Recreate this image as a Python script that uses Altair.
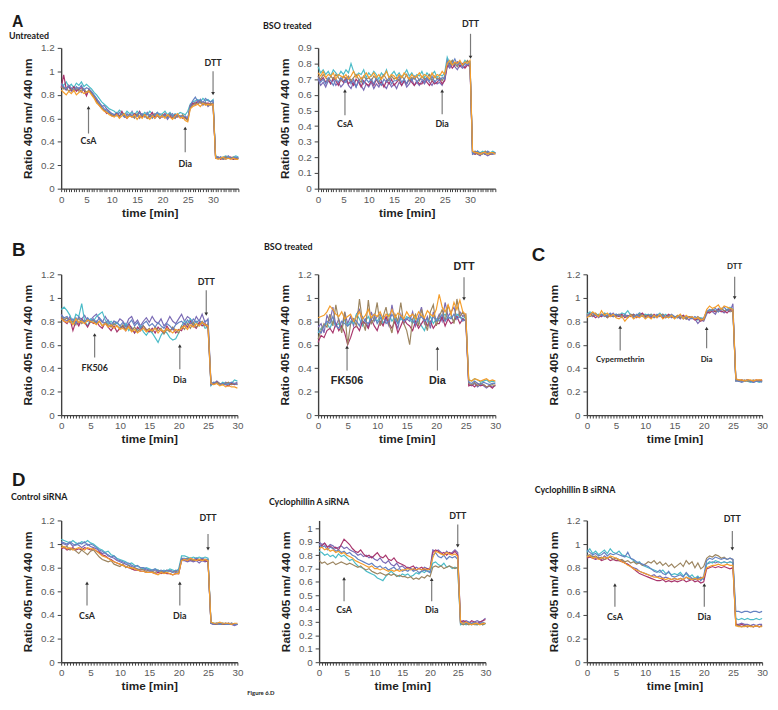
import altair as alt
import pandas as pd

SERIES = ["purple", "cyan", "magenta", "brown", "blue", "orange"]
PALETTE = ["#7b6bb5", "#4bbcc8", "#a8356c", "#9c8560", "#6482c2", "#f59e2c"]

T35 = [i / 2 for i in range(71)]
T30 = [i / 2 for i in range(61)]
Y_TICKS_12 = [0, 0.2, 0.4, 0.6, 0.8, 1, 1.2]
Y_TICKS_09 = [0, 0.1, 0.2, 0.3, 0.4, 0.5, 0.6, 0.7, 0.8, 0.9]
Y_TICKS_10 = [0, 0.1, 0.2, 0.3, 0.4, 0.5, 0.6, 0.7, 0.8, 0.9, 1]

# ---- traces (ratio x 100), segments separated by | ----
A1 = {
    "purple": "88 86 84 87 83 85 84 86 82 85 80|84 82 79 76 74 70 71 68 66 64|63 65 62 64 61 63 62 66 61 63 60 64 62 65 61 63 60 62 64 61 63 59 62 64 60 63 61 62 60 59|70 72 74 73 76 71 74 70 72 71|27 26 27 25 26 28 26 25 26 26",
    "cyan": "90 88 91 87 89 86 90 88 91 87 89|87 85 82 80 77 74 72 70 68 67|66 64 67 65 63 66 64 65 63 66 64 62 65 63 66 64 62 65 63 64 66 63 65 62 64 63 65 64 63 66|72 74 75 76 74 77 75 76 74 76|28 27 26 27 28 27 26 27 28 27",
    "magenta": "86 97 85 88 84 87 83 85 86 84 79|85 81 78 75 71 69 67 64 65 62|62 64 61 66 62 60 63 61 64 62 66 61 63 60 62 65 61 63 60 62 64 61 62 60 63 61 62 60 61 59|71 73 72 75 73 74 72 73 72 73|26 27 25 26 27 26 27 25 26 26",
    "brown": "87 85 86 83 85 84 86 83 84 85 82|84 81 78 74 72 69 67 66 64 63|62 63 61 64 62 61 63 62 60 64 61 63 62 60 63 61 64 62 60 63 61 62 64 61 60 62 61 63 60 58|69 71 73 72 74 72 73 71 73 72|27 26 26 25 27 26 26 27 25 26",
    "blue": "89 87 85 88 86 83 87 85 88 84 86|85 83 80 77 73 71 68 67 65 64|63 62 65 63 61 64 62 63 61 62 65 63 61 64 62 60 63 65 61 62 63 60 64 62 61 63 62 61 62 60|71 75 78 74 76 73 77 75 74 75|27 26 27 26 25 27 26 26 27 26",
    "orange": "84 82 80 83 81 84 80 82 83 81 82|83 80 77 73 71 68 66 65 63 62|61 63 60 62 64 60 62 61 63 59 62 60 63 61 59 62 60 63 61 62 60 63 61 59 62 64 60 61 58 57|68 70 71 72 70 73 71 72 71 72|26 25 26 27 25 26 25 26 25 25",
}
A2 = {
    "purple": "70 66 68 65 69 67 70 66 68 65 67|70 66 64 68 65 69 66 63 67 65|68 64 67 65 69 66 64 68 65 67|64 68 66 69 65 67 70 66 68 66|69 67 70 68 66 69 67 68 66 70|79 77 80 78 76 79 77 78 80 79|22 23 22 21 23 22 21 22 23 22",
    "cyan": "78 74 76 73 75 72 76 74 72 75 73|76 74 80 75 72 74 73 76 71 74|72 75 73 70 74 72 76 71 73 75|72 74 71 73 76 72 74 71 73 72|75 71 74 72 73 75 71 73 72 74|84 80 82 79 81 80 79 82 80 81|23 22 24 23 24 23 22 23 24 23",
    "magenta": "72 69 71 68 70 67 71 69 66 70 68|71 67 69 66 70 68 65 69 67 66|69 66 70 67 68 65 69 67 70 66|68 70 66 69 67 70 68 66 69 67|67 70 68 66 69 67 68 70 67 69|78 80 77 79 81 78 80 77 79 78|23 22 23 22 23 22 23 22 22 23",
    "brown": "72 70 73 71 69 72 70 73 71 69 72|70 72 69 71 73 70 68 72 70 71|69 72 70 68 71 73 70 69 72 70|71 69 72 70 73 69 71 70 72 69|72 70 71 73 69 72 70 71 69 72|81 79 82 80 78 81 79 80 82 80|23 24 22 23 22 24 23 22 23 23",
    "blue": "71 68 70 67 71 69 66 70 68 71 69|68 71 67 70 65 69 71 67 70 68|70 67 71 68 66 70 68 71 67 69|69 72 68 70 67 71 69 72 68 70|70 68 71 69 72 68 70 69 71 70|82 78 80 83 79 81 78 80 79 81|22 23 24 22 23 22 24 23 22 23",
    "orange": "74 72 75 71 73 72 74 70 73 72 71|73 70 72 75 71 73 70 72 74 71|72 74 71 73 70 72 75 71 73 72|70 73 71 74 72 70 73 71 72 74|71 73 72 70 74 71 73 72 75 73|80 82 79 81 80 82 79 81 80 82|24 23 23 22 23 23 22 23 23 22",
}
B1 = {
    "purple": "86 82 80 84 79 83 78 82 85 80 81|84 86 82 79 84 80 76 80 78 82|80 76 82 84 78 81 76 80 83 79|84 80 78 82 76 79 84 80 78 82|86 80 84 82 78 84 80 86 79 82|28 27 29 27 26 28 27 26 27 28",
    "cyan": "90 92 89 85 78 86 84 95 80 76 82|80 84 86 88 81 78 80 77 79 76|74 78 72 75 70 73 76 71 68 72|70 66 62 68 72 70 66 64 65 70|76 80 78 82 77 80 76 79 74 75|25 28 27 26 28 27 26 27 30 29",
    "magenta": "83 80 78 82 72 80 76 82 79 75 80|78 80 76 74 79 75 72 76 71 74|76 72 78 74 70 75 72 76 73 71|74 70 75 72 70 76 72 74 70 73|72 78 75 80 76 74 79 76 78 74|26 27 28 26 27 26 25 27 26 27",
    "brown": "84 81 83 79 80 77 83 78 80 82 79|81 78 80 76 79 77 75 78 76 74|77 73 76 72 75 71 74 76 72 74|71 75 72 74 69 73 71 75 72 70|76 73 78 74 79 75 77 80 76 78|27 26 28 27 26 27 28 26 27 26",
    "blue": "85 83 84 80 82 78 84 81 79 83 80|82 79 83 80 78 81 77 80 79 76|79 75 78 81 76 79 74 78 80 76|78 75 79 76 74 78 76 73 77 79|80 77 81 78 82 79 81 78 80 81|26 28 27 26 27 26 27 28 27 26",
    "orange": "82 80 79 81 77 82 79 80 78 81 80|79 77 80 76 78 75 77 74 76 73|74 72 75 71 73 70 72 74 71 73|72 74 70 73 71 74 72 70 73 72|74 76 73 77 75 78 76 79 77 76|27 26 27 25 26 24 25 24 24 23",
}
B2 = {
    "purple": "75 78 70 85 80 92 76 82 74 88 78|84 76 86 90 78 82 74 88 80 84|86 78 82 76 94 80 74 86 78 82|80 88 76 84 92 78 84 74 88 80|86 80 96 84 88 92 82 88 84 86|26 25 27 24 26 25 23 25 24 25",
    "cyan": "70 74 76 78 74 80 76 78 74 82 76|80 78 86 82 76 80 84 78 82 80|84 78 82 86 80 84 78 82 80 84|82 78 84 80 76 72 80 84 78 82|80 84 86 82 84 80 86 84 82 84|30 29 31 30 28 29 30 28 29 28",
    "magenta": "62 68 66 72 74 70 78 72 76 70 60|66 74 76 72 80 78 74 82 76 72|80 76 84 78 74 80 70 76 82 78|76 72 80 74 78 82 76 80 74 78|78 84 76 82 78 80 84 78 82 80|25 26 24 27 25 26 24 25 23 26",
    "brown": "65 72 78 75 86 76 94 80 70 88 60|78 82 76 99 80 72 98 78 82 96|76 84 92 78 70 86 80 96 78 72|60 82 86 76 90 80 72 88 94 76|84 90 80 94 86 78 99 84 88 82|27 26 28 25 27 26 24 25 26 25",
    "blue": "72 70 76 80 78 84 76 74 80 78 76|78 82 80 76 84 80 78 82 86 78|82 84 78 80 86 82 78 84 80 82|84 80 78 82 84 80 82 78 84 80|82 86 80 84 82 86 82 84 80 82|28 27 29 27 26 28 27 26 27 27",
    "orange": "83 84 85 88 93 90 86 84 88 82 84|86 80 84 88 82 85 90 83 86 84|88 82 86 84 90 83 87 85 82 88|84 86 82 88 85 83 89 86 84 90|103 92 88 94 86 96 90 98 88 86|30 29 31 30 29 30 31 29 30 29",
}
C1 = {
    "purple": "85 87 84 86 83 85 86 84 85 87 84|86 84 85 83 86 84 85 87 86 84|86 84 85 83 85 86 84 85 83 84|84 82 85 83 81 84 82 78 81 80|86 90 88 86 91 89 87 90 88 95|30 30 29 29 30 29 28 29 30 29",
    "cyan": "86 88 87 85 86 84 87 86 85 84 86|85 87 86 89 85 86 84 87 85 86|85 86 84 85 87 84 86 83 85 84|83 85 84 82 84 83 82 81 83 82|87 89 90 88 90 91 89 90 92 90|30 29 30 29 29 28 29 29 28 29",
    "magenta": "84 86 85 83 85 84 86 83 85 84 85|84 86 83 85 84 86 83 85 87 84|85 83 86 84 85 83 84 86 84 83|84 83 85 82 84 83 81 82 80 82|88 87 89 88 90 88 89 87 90 89|30 29 30 29 30 29 29 30 29 30",
    "brown": "86 84 85 87 84 86 85 83 86 85 84|86 84 85 83 86 85 84 86 84 85|84 86 83 85 84 86 83 85 84 83|85 83 84 82 84 83 82 84 82 81|89 88 90 89 88 91 89 90 89 88|29 30 29 30 29 29 30 29 29 29",
    "blue": "84 86 87 85 84 86 84 85 87 84 86|85 83 86 84 85 83 86 84 85 83|84 85 83 86 84 85 83 84 86 84|83 85 82 84 83 82 84 82 81 83|88 90 89 91 88 90 92 89 91 90|29 29 28 29 30 29 28 29 29 28",
    "orange": "83 85 88 86 84 89 85 87 84 86 83|82 84 80 83 85 82 84 83 85 82|84 82 85 83 86 82 84 83 85 82|84 86 82 85 83 84 82 83 81 82|90 93 91 92 94 90 93 92 91 90|31 30 30 29 30 30 29 30 30 30",
}
D1 = {
    "purple": "101 100 99 101 98 100 99 97 99 100 98|97 96 94 92 93 90 89 88 86 85|84 83 82 81 80 79 78 79 78 77|77 78 77 76 77 76 78 77 76 75|86 86 85 86 85 86 84 86 85 86|33 32 33 32 32 33 32 32 31 32",
    "cyan": "104 103 102 101 103 101 100 102 101 103 101|100 98 96 95 93 94 91 90 88 87|86 85 83 84 82 81 80 79 80 79|78 79 78 77 78 77 79 78 77 79|90 90 89 88 89 88 89 88 89 88|34 33 33 32 33 32 33 32 32 32",
    "magenta": "96 97 95 96 97 95 96 95 97 96 95|96 94 93 91 90 88 87 85 84 83|82 81 80 79 78 78 77 77 76 76|76 75 76 75 76 75 75 74 75 75|87 87 86 87 86 87 86 87 86 85|33 32 32 33 32 32 33 32 32 32",
    "brown": "99 97 98 95 96 94 92 95 93 91 94|95 92 89 87 86 85 86 83 82 81|83 80 82 79 80 78 79 78 77 78|77 76 78 77 76 78 77 76 77 76|88 87 88 87 86 88 87 86 87 86|33 33 32 33 32 33 32 33 32 32",
    "blue": "102 101 100 102 100 99 101 100 102 99 100|99 97 95 94 92 91 89 90 87 86|85 84 84 82 81 82 80 80 79 78|78 79 77 78 77 78 77 76 78 77|88 88 87 88 87 88 87 88 87 87|33 32 33 32 33 32 32 33 32 32",
    "orange": "97 98 96 97 95 96 97 96 95 97 96|96 94 92 90 89 88 86 85 84 83|82 81 80 80 79 78 77 77 76 76|76 75 74 76 75 76 75 74 75 75|86 87 86 88 87 86 87 86 87 86|34 33 33 34 33 33 33 32 33 33",
}
D2 = {
    "purple": "90 88 89 86 88 87 85 86 87 85 86|84 83 82 80 81 79 80 78 79 77|76 78 75 74 76 73 72 74 71 72|70 71 70 69 71 70 69 71 70 70|84 83 84 82 80 83 81 82 84 82|31 30 31 30 29 30 31 30 31 33",
    "cyan": "83 82 80 81 79 80 78 81 79 80 78|76 77 74 72 71 70 68 67 66 65|63 62 61 64 66 68 66 65 64 66|65 66 64 65 67 66 68 67 69 67|74 75 73 72 74 71 72 70 71 70|28 29 28 29 28 29 28 29 28 29",
    "magenta": "88 87 89 86 87 85 86 84 88 92 90|88 85 83 82 84 81 79 80 78 80|82 79 78 80 77 76 78 75 74 73|72 70 71 72 69 70 71 69 70 69|82 84 83 81 82 80 82 81 83 80|30 31 30 29 31 30 29 30 31 32",
    "brown": "76 74 75 73 74 75 73 74 75 74 73|74 73 72 71 72 70 69 70 68 67|66 67 66 65 66 65 66 64 65 64|64 63 64 62 63 62 64 63 65 64|71 72 71 72 70 71 72 71 70 71|29 28 29 28 29 28 28 29 28 29",
    "blue": "88 86 87 84 86 85 83 84 82 83 81|82 80 79 77 76 75 74 73 74 72|71 72 70 71 69 70 71 69 70 68|69 68 70 68 69 67 68 69 68 67|80 82 79 78 80 77 79 78 79 77|29 30 29 30 29 30 29 29 30 29",
    "orange": "85 86 84 85 83 84 82 83 81 82 80|79 78 76 75 74 73 72 71 72 70|70 69 70 69 68 69 68 69 68 69|69 70 69 70 69 70 69 70 69 70|78 83 82 81 80 82 81 80 81 79|30 29 30 29 28 29 29 28 29 29",
}
D3 = {
    "purple": "91 89 90 88 89 87 90 88 89 87 88|87 86 84 83 81 80 79 77 76 75|74 73 74 72 73 71 72 71 70 71|70 71 70 72 70 71 70 71 72 70|83 84 85 84 85 84 85 84 85 84|32 32 33 32 32 31 32 31 32 32",
    "cyan": "93 96 92 94 91 93 95 92 96 93 92|94 91 90 89 88 86 84 85 82 81|80 79 78 77 76 78 75 76 74 75|74 76 73 75 72 74 71 73 70 71|83 85 84 86 85 84 85 84 85 84|37 36 37 36 37 36 36 37 36 37",
    "magenta": "88 89 88 87 88 86 87 88 86 87 86|86 85 84 83 81 79 77 75 74 73|72 71 70 69 69 70 68 69 68 69|68 69 70 68 69 70 68 69 67 68|79 80 81 80 81 80 81 80 79 80|32 31 32 31 30 31 30 31 30 31",
    "brown": "90 91 89 90 88 89 87 88 89 87 88|86 87 85 86 84 85 83 84 82 83|85 84 86 83 85 82 84 81 83 80|82 84 81 86 83 85 80 84 79 81|88 90 89 91 90 88 89 87 88 87|31 31 30 31 30 31 30 31 30 31",
    "blue": "95 93 91 92 90 91 93 90 92 91 92|91 90 89 93 88 87 85 84 83 82|81 79 77 76 78 75 74 77 73 72|73 74 72 76 73 71 70 72 69 73|86 88 87 89 88 87 88 87 88 87|43 43 42 43 43 42 43 43 42 43",
    "orange": "89 90 88 89 87 88 89 88 90 89 88|87 85 84 82 81 79 78 77 76 75|74 73 72 72 71 71 70 71 70 71|70 71 70 72 71 70 71 70 71 72|80 81 82 82 83 82 82 83 82 82|31 30 30 30 31 30 30 31 30 30",
}

# ---- arrow annotations: label, x (min), tail, tip, label y ----
ARR_A1 = {"label": ["CsA", "Dia", "DTT"], "t": [5.4, 24.5, 30.0], "tail": [0.47, 0.31, 1.0], "tip": [0.69, 0.515, 0.81], "ty": [0.405, 0.21, 1.07]}
ARR_A2 = {"label": ["CsA", "Dia", "DTT"], "t": [5.3, 24.5, 30.1], "tail": [0.47, 0.475, 0.99], "tip": [0.625, 0.625, 0.84], "ty": [0.41, 0.41, 1.05]}
ARR_B1 = {"label": ["FK506", "Dia", "DTT"], "t": [5.7, 20.2, 24.7], "tail": [0.49, 0.39, 1.065], "tip": [0.685, 0.59, 0.86], "ty": [0.40, 0.30, 1.13]}
ARR_B2 = {"label": ["FK506", "Dia", "DTT"], "t": [4.9, 20.2, 24.7], "tail": [0.38, 0.38, 1.175], "tip": [0.58, 0.57, 0.99], "ty": [0.29, 0.29, 1.26]}
ARR_C = {"label": ["Cypermethrin", "Dia", "DTT"], "t": [5.7, 20.5, 25.3], "tail": [0.55, 0.57, 1.18], "tip": [0.75, 0.74, 1.0], "ty": [0.47, 0.47, 1.26]}
ARR_D1 = {"label": ["CsA", "Dia", "DTT"], "t": [4.4, 20.2, 25.0], "tail": [0.48, 0.48, 1.085], "tip": [0.67, 0.67, 0.96], "ty": [0.39, 0.39, 1.22]}
ARR_D2 = {"label": ["CsA", "Dia", "DTT"], "t": [4.5, 20.3, 25.0], "tail": [0.455, 0.455, 1.03], "tip": [0.625, 0.62, 0.87], "ty": [0.39, 0.39, 1.09]}
ARR_D3 = {"label": ["CsA", "Dia", "DTT"], "t": [4.8, 20.1, 24.9], "tail": [0.47, 0.47, 1.11], "tip": [0.655, 0.655, 0.96], "ty": [0.38, 0.38, 1.21]}

LABEL_FONT = "Liberation Sans"
NOTE_FONT = "Lato"


def parse(s):
    return [int(v) / 100 for v in s.replace("|", " ").split()]


def header(text, dx, dy, size, font=NOTE_FONT, baseline="middle", color="#1a1a1a"):
    return alt.Chart(pd.DataFrame({"txt": [text]})).mark_text(
        align="left", baseline=baseline, font=font, fontSize=size, fontWeight="bold", color=color
    ).encode(x=alt.value(dx), y=alt.value(dy), text="txt:N")


def spacer(dx, dy):
    # tiny white dot that fixes the panel's layout bounds
    return alt.Chart(pd.DataFrame({"txt": ["."]})).mark_text(
        align="center", baseline="middle", fontSize=2, color="#ffffff"
    ).encode(x=alt.value(dx), y=alt.value(dy), text="txt:N")


def panel(times, traces, xmax, ymax, yticks, w, h, arrows, headers, pad,
          note_size=9, note_font=NOTE_FONT):
    rows = []
    for name in SERIES:
        for t, v in zip(times, parse(traces[name])):
            rows.append({"t": t, "v": v, "s": name})
    df = pd.DataFrame(rows)

    xs = alt.Scale(domain=[0, xmax], nice=False, zero=False)
    ys = alt.Scale(domain=[0, ymax], nice=False, zero=False)
    xaxis = alt.Axis(
        values=times, title="time [min]", labelFlush=False, labelOverlap=False,
        labelExpr="datum.value % 5 === 0 && datum.value <= 30 ? format(datum.value, 'd') : ''",
        tickSize=3, grid=False, titlePadding=3,
    )
    yaxis = alt.Axis(values=yticks, format="~g", title="Ratio 405 nm/ 440 nm", tickSize=4,
                     grid=False, labelOverlap=False, titlePadding=6)
    x_enc = alt.X("t:Q", scale=xs, axis=xaxis)

    lines = alt.Chart(df).mark_line(strokeWidth=1.2).encode(
        x=x_enc,
        y=alt.Y("v:Q", scale=ys, axis=yaxis),
        color=alt.Color("s:N", scale=alt.Scale(domain=SERIES, range=PALETTE), legend=None),
        order=alt.Order("t:Q"),
    )

    adf = pd.DataFrame(arrows)
    adf["shape"] = ["triangle-up" if tp > tl else "triangle-down" for tp, tl in zip(adf["tip"], adf["tail"])]
    rule = alt.Chart(adf).mark_rule(color="#7a7a7a", strokeWidth=1.2).encode(
        x=x_enc, y=alt.Y("tail:Q", scale=ys, axis=yaxis), y2="tip:Q"
    )
    head = alt.Chart(adf).mark_point(filled=True, size=14, opacity=1, color="#333333").encode(
        x=x_enc, y=alt.Y("tip:Q", scale=ys, axis=yaxis), shape=alt.Shape("shape:N", scale=None)
    )
    txt = alt.Chart(adf).mark_text(
        font=note_font, fontSize=note_size, fontWeight="bold", color="#262626", baseline="middle"
    ).encode(x=x_enc, y=alt.Y("ty:Q", scale=ys, axis=yaxis), text="label:N")

    left, top, right, bottom = pad
    layers = [lines, rule, head, txt] + [header(*hh) for hh in headers]
    layers += [spacer(-left, -top), spacer(w + right, h + bottom)]
    return alt.layer(*layers).properties(width=w, height=h)


R, B = 7, 40
pA1 = panel(T35, A1, 35, 1.2, Y_TICKS_12, 180, 143, ARR_A1,
            [("A", -50, -26, 16, LABEL_FONT), ("Untreated", -53, -12, 9)], (53, 34, R, B))
pA2 = panel(T35, A2, 35, 0.9, Y_TICKS_09, 180, 143, ARR_A2,
            [("BSO treated", -56, -22, 9)], (60, 34, R, B))
pB1 = panel(T30, B1, 30, 1.2, Y_TICKS_12, 179, 143, ARR_B1,
            [("B", -50, -34, 19, LABEL_FONT, "top")], (53, 36, R, B))
pB2 = panel(T30, B2, 30, 1.2, Y_TICKS_12, 180, 143, ARR_B2,
            [("BSO treated", -55, -28, 9)], (60, 36, R, B), note_size=11, note_font=LABEL_FONT)
pC = panel(T30, C1, 30, 1.2, Y_TICKS_12, 178, 143, ARR_C,
           [("C", -56, -29, 19, LABEL_FONT, "top")], (60, 36, R, B), note_size=8)
pD1 = panel(T30, D1, 30, 1.2, Y_TICKS_12, 179, 144, ARR_D1,
            [("D", -50, -50, 19, LABEL_FONT, "top"), ("Control siRNA", -51, -24, 9)], (53, 52, R, B))
pD2 = panel(T30, D2, 30, 1.06, Y_TICKS_10, 169, 144, ARR_D2,
            [("Cyclophillin A siRNA", -51, -19, 9), ("Figure 6.D", -73, 175, 6)], (74, 52, R, B))
pD3 = panel(T30, D3, 30, 1.2, Y_TICKS_12, 178, 144, ARR_D3,
            [("Cyclophillin B siRNA", -53, -31, 9)], (60, 52, R, B))

row1 = alt.hconcat(pA1, pA2, spacing=12)
row2 = alt.hconcat(alt.hconcat(pB1, pB2, spacing=13), pC, spacing=24)
row3 = alt.hconcat(alt.hconcat(pD1, pD2, spacing=0), pD3, spacing=34)

chart = alt.vconcat(
    alt.vconcat(row1, row2, spacing=9), row3, spacing=13
).properties(padding=0).configure_view(stroke=None).configure_axis(
    domainColor="#404040", domainWidth=1.4, tickColor="#404040",
    labelFont=LABEL_FONT, labelFontSize=10, labelColor="#595959", labelPadding=3,
    titleFont=LABEL_FONT, titleFontSize=12, titleFontWeight="bold", titleColor="#1f1f1f",
)

chart.save("out.html", embed_options={"renderer": "svg", "actions": False})
